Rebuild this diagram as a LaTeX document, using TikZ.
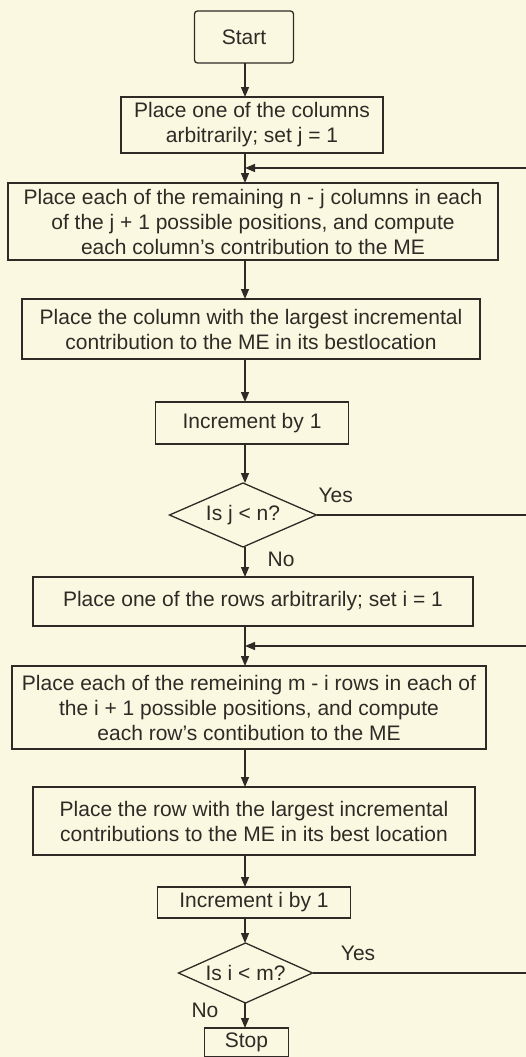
\documentclass[tikz,border=0pt]{standalone}
\usepackage{fontspec}
\setmainfont{Liberation Sans}
\usepackage{tikz}
\usetikzlibrary{arrows.meta, positioning, calc, shapes.geometric}
\usepackage{xcolor}
\definecolor{paper}{HTML}{FBF8E1}
\definecolor{ink}{HTML}{2E2B26}

\begin{document}
\begin{tikzpicture}[
  x=1pt, y=1pt,
  font=\fontsize{21}{25}\selectfont,
  block/.style = {draw=ink, line width=1.3pt, outer sep=0pt, align=center, inner sep=2pt, text=ink},
  decision/.style = {draw=ink, line width=1.3pt, outer sep=0pt, diamond, aspect=2.4, inner sep=0pt, align=center, text=ink},
  arrow/.style = {draw=ink, line width=1.3pt, -{Triangle[width=8pt, length=10pt]}},
  tag/.style = {text=ink, inner sep=2pt}
]

  % page
  \fill[paper] (0,0) rectangle (526,-1057);
  \useasboundingbox (0,0) rectangle (526,-1057);

  % the vertical flow line
  \coordinate (trunk) at (245,0);

  % ======================================================
  % columns
  % ======================================================
  \node[block, rounded corners=3pt, minimum width=99pt, minimum height=52pt] (start) at (244,-37) {Start};

  \node[block, minimum width=262pt, minimum height=56pt, below=34pt of start, xshift=8pt] (first_col) {
    Place one of the  columns\\ arbitrarily; set j = 1};

  \node[block, minimum width=490pt, minimum height=77pt, below=30pt of first_col, xshift=1pt] (each_col) {
    Place each of the remaining n - j columns in each\\
    of the j + 1 possible positions, and compute\\
    each column's contribution to the ME};

  \node[block, minimum width=458pt, minimum height=60pt, below=39pt of each_col, xshift=-2pt] (best_col) {
    Place  the column with the largest incremental\\
    contribution to the ME in its bestlocation};

  \node[block, minimum width=193pt, minimum height=42pt, below=43pt of best_col, xshift=1pt] (inc_j) {Increment by 1};

  \node[decision, minimum width=147pt, minimum height=64pt, below=39pt of inc_j, xshift=-9pt] (is_j) {Is j < n?};

  % ======================================================
  % rows
  % ======================================================
  \node[block, minimum width=440pt, minimum height=49pt, below=30pt of is_j, xshift=10pt] (first_row) {
    Place one  of the rows arbitrarily; set i = 1};

  \node[block, minimum width=474pt, minimum height=83pt, below=40pt of first_row, xshift=-4pt] (each_row) {
    Place each of the remeining m - i rows in each of\\
    the i + 1 possible positions, and compute\\
    each row's contibution to the ME};

  \node[block, minimum width=442pt, minimum height=68pt, below=38pt of each_row, xshift=5pt] (best_row) {
    Place the row with the largest incremental\\
    contributions to the ME in its best location};

  \node[block, minimum width=193pt, minimum height=31pt, below=32pt of best_row] (inc_i) {Increment i  by 1};

  \node[decision, minimum width=134pt, minimum height=60pt, below=25pt of inc_i, xshift=-8.5pt] (is_i) {Is i < m?};

  \node[block, minimum width=84pt, minimum height=29pt, below=25pt of is_i, xshift=1pt] (stop) {Stop};

  % main line
  \draw[arrow] (start.south -| trunk) -- (first_col.north -| trunk);
  \draw[arrow] (first_col.south -| trunk) -- (each_col.north -| trunk);
  \draw[arrow] (each_col.south -| trunk) -- (best_col.north -| trunk);
  \draw[arrow] (best_col.south -| trunk) -- (inc_j.north -| trunk);
  \draw[arrow] (inc_j.south -| trunk) -- (is_j.north -| trunk);
  \draw[arrow] (is_j.south -| trunk) -- node[tag, right=20pt, pos=0.4] {No} (first_row.north -| trunk);
  \draw[arrow] (first_row.south -| trunk) -- (each_row.north -| trunk);
  \draw[arrow] (each_row.south -| trunk) -- (best_row.north -| trunk);
  \draw[arrow] (best_row.south -| trunk) -- (inc_i.north -| trunk);
  \draw[arrow] (inc_i.south -| trunk) -- (is_i.north -| trunk);
  \draw[arrow] (is_i.south -| trunk) -- node[tag, left=24pt, pos=0.3] {No} (stop.north -| trunk);

  % loops back (they leave the page on the right)
  \coordinate (col_loop) at ($(first_col.south -| trunk)!0.5!(each_col.north -| trunk)$);
  \draw[arrow] (is_j.east) -- node[tag, above=10pt, pos=0.08] {Yes} ++(240,0) |- (col_loop);

  \coordinate (row_loop) at ($(first_row.south -| trunk)!0.5!(each_row.north -| trunk)$);
  \draw[arrow] (is_i.east) -- node[tag, above=10pt, pos=0.19] {Yes} ++(240,0) |- (row_loop);

\end{tikzpicture}
\end{document}
